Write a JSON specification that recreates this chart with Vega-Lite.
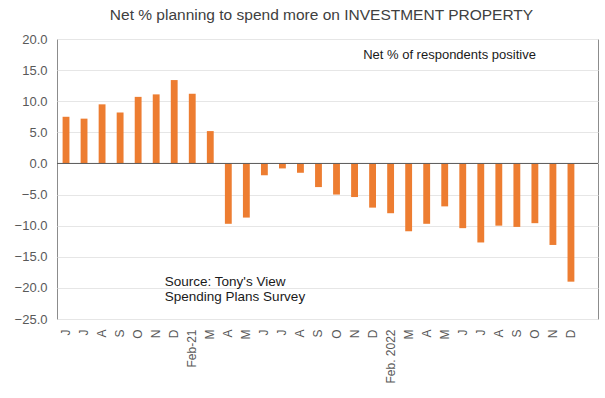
{
  "$schema": "https://vega.github.io/schema/vega-lite/v6.json",
  "width": 541,
  "height": 280,
  "autosize": {"type": "none"},
  "padding": {"left": 57, "top": 39, "right": 7, "bottom": 79},
  "background": "white",
  "title": {"text": "Net % planning to spend more on INVESTMENT PROPERTY", "fontSize": 15.5, "fontWeight": "normal", "color": "#404040", "offset": 10, "dx": -6, "font": "Liberation Sans"},
  "config": {"font": "Liberation Sans", "view": {"stroke": "#8c8c8c", "strokeWidth": 1}},
  "datasets": {
    "bars": [
      {"key": "J|0", "value": 7.5},
      {"key": "J|1", "value": 7.2},
      {"key": "A|2", "value": 9.5},
      {"key": "S|3", "value": 8.2},
      {"key": "O|4", "value": 10.7},
      {"key": "N|5", "value": 11.1},
      {"key": "D|6", "value": 13.4},
      {"key": "Feb-21|7", "value": 11.2},
      {"key": "M|8", "value": 5.2},
      {"key": "A|9", "value": -9.7},
      {"key": "M|10", "value": -8.7},
      {"key": "J|11", "value": -1.9},
      {"key": "J|12", "value": -0.8},
      {"key": "A|13", "value": -1.5},
      {"key": "S|14", "value": -3.8},
      {"key": "O|15", "value": -5.0},
      {"key": "N|16", "value": -5.4},
      {"key": "D|17", "value": -7.1},
      {"key": "Feb. 2022|18", "value": -8.0},
      {"key": "M|19", "value": -10.9},
      {"key": "A|20", "value": -9.7},
      {"key": "M|21", "value": -6.9},
      {"key": "J|22", "value": -10.4},
      {"key": "J|23", "value": -12.7},
      {"key": "A|24", "value": -10.0},
      {"key": "S|25", "value": -10.2},
      {"key": "O|26", "value": -9.6},
      {"key": "N|27", "value": -13.1},
      {"key": "D|28", "value": -19.0}
    ],
    "notes": [
      {"key": "D|17", "value": 17.4, "text": "Net % of respondents positive", "size": 13},
      {"key": "D|6", "value": -19.1, "text": "Source: Tony's View", "size": 13.5},
      {"key": "D|6", "value": -21.5, "text": "Spending Plans Survey", "size": 13.5}
    ]
  },
  "encoding": {
    "x": {
      "field": "key", "type": "nominal", "sort": null,
      "scale": {"type": "band", "paddingInner": 0.62, "paddingOuter": 0.31,
        "domain": ["J|0","J|1","A|2","S|3","O|4","N|5","D|6","Feb-21|7","M|8","A|9","M|10","J|11","J|12","A|13","S|14","O|15","N|16","D|17","Feb. 2022|18","M|19","A|20","M|21","J|22","J|23","A|24","S|25","O|26","N|27","D|28","|29"]},
      "axis": {"title": null, "labelAngle": -90, "labelExpr": "split(datum.value, '|')[0]", "ticks": false, "domain": false, "labelPadding": 10, "labelFontSize": 12, "labelColor": "#595959", "grid": false, "labelOverlap": false}
    },
    "y": {
      "field": "value", "type": "quantitative",
      "scale": {"domain": [-25, 20], "nice": false, "zero": false},
      "axis": {"title": null, "values": [-25, -20, -15, -10, -5, 0, 5, 10, 15, 20], "format": ".1f", "labelFontSize": 13, "labelColor": "#595959", "domain": false, "ticks": false, "labelPadding": 10, "gridColor": "#e6e6e6", "labelOverlap": false}
    }
  },
  "layer": [
    {
      "data": {"name": "bars"},
      "mark": {"type": "bar", "color": "#ED7D31"}
    },
    {
      "data": {"values": [{"value": 0}]},
      "mark": {"type": "rule", "color": "#595959", "strokeWidth": 1},
      "encoding": {"x": null}
    },
    {
      "data": {"name": "notes"},
      "mark": {"type": "text", "align": "left", "baseline": "middle", "color": "#1a1a1a", "dx": -6},
      "encoding": {
        "x": {"field": "key", "type": "nominal", "bandPosition": 0},
        "text": {"field": "text"},
        "size": {"field": "size", "type": "quantitative", "scale": null}
      }
    }
  ]
}
